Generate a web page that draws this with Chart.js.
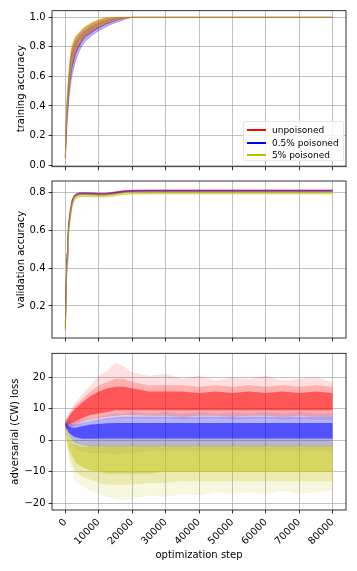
<!DOCTYPE html>
<html>
<head>
<meta charset="utf-8">
<script src="https://cdn.jsdelivr.net/npm/chart.js@4"></script>
<style>
  body { margin: 0; background: #fff; width: 357px; height: 571px; position: relative; overflow: hidden; font-family: "DejaVu Sans", sans-serif; }
  canvas { position: absolute; left: 0; }
  #legend { position: absolute; left: 243px; top: 121px; width: 101px; height: 40px; background: rgba(255,255,255,0.8); border: 1px solid rgba(225,225,225,0.8); border-radius: 2px; box-sizing: border-box; }
  #legend .row { position: absolute; left: 0; height: 12px; line-height: 12px; font-size: 9px; color: #000; white-space: nowrap; }
  #legend .sw { position: absolute; left: 3px; top: 5px; width: 19px; height: 2px; }
  #legend .txt { position: absolute; left: 28px; top: 0; }
</style>
</head>
<body>
<canvas id="train" width="357" height="175" style="top:0"></canvas>
<canvas id="valid" width="357" height="170" style="top:175px"></canvas>
<canvas id="adv" width="357" height="226" style="top:345px"></canvas>
<div id="legend">
  <div class="row" style="top:2px"><span class="sw" style="background:#ff0000"></span><span class="txt">unpoisoned</span></div>
  <div class="row" style="top:14.5px"><span class="sw" style="background:#0000ff"></span><span class="txt">0.5% poisoned</span></div>
  <div class="row" style="top:27px"><span class="sw" style="background:#bfbf00"></span><span class="txt">5% poisoned</span></div>
</div>
<script>
// tick values
var xTicks = [0, 10000, 20000, 30000, 40000, 50000, 60000, 70000, 80000];
var trainTicks = [0, 0.2, 0.4, 0.6, 0.8, 1.0];
var validTicks = [0.2, 0.4, 0.6, 0.8];
var advTicks = [-20, -10, 0, 10, 20];

// ---- training accuracy (band of runs per series: low / high edge)
var trainSteps = [0, 250, 500, 1000, 1500, 2000, 3000, 4000, 5000, 6000, 8000, 10000, 12000, 14000, 16000, 18000, 20000, 80000];
var trainHiYel = [0.06, 0.30, 0.45, 0.62, 0.74, 0.81, 0.87, 0.895, 0.92, 0.94, 0.965, 0.985, 0.997, 1, 1, 1, 1, 1];
var trainLoYel = [0.055, 0.22, 0.35, 0.50, 0.62, 0.70, 0.78, 0.82, 0.855, 0.88, 0.915, 0.94, 0.962, 0.977, 0.988, 0.995, 1, 1];
var trainHiRed = [0.058, 0.28, 0.43, 0.60, 0.72, 0.79, 0.855, 0.885, 0.91, 0.93, 0.958, 0.978, 0.992, 0.998, 1, 1, 1, 1];
var trainLoRed = [0.05, 0.20, 0.32, 0.48, 0.59, 0.66, 0.75, 0.80, 0.84, 0.87, 0.90, 0.93, 0.953, 0.97, 0.985, 0.995, 1, 1];
var trainHiBlue = [0.056, 0.26, 0.41, 0.57, 0.69, 0.76, 0.83, 0.865, 0.89, 0.91, 0.94, 0.962, 0.978, 0.988, 0.995, 0.999, 1, 1];
var trainLoBlue = [0.05, 0.17, 0.28, 0.43, 0.54, 0.61, 0.70, 0.765, 0.81, 0.84, 0.878, 0.91, 0.935, 0.955, 0.972, 0.988, 1, 1];

// ---- validation accuracy
var validSteps = [0, 250, 500, 750, 1000, 1500, 2000, 2500, 3000, 4000, 5000, 6000, 8000, 10000, 12000, 14000, 16000, 18000, 20000, 25000, 80000];
var validHiRed = [0.10, 0.33, 0.48, 0.57, 0.64, 0.71, 0.76, 0.78, 0.79, 0.797, 0.798, 0.798, 0.797, 0.795, 0.795, 0.80, 0.806, 0.81, 0.812, 0.813, 0.813];
var validLoRed = [0.08, 0.30, 0.45, 0.54, 0.61, 0.69, 0.74, 0.77, 0.782, 0.79, 0.791, 0.791, 0.79, 0.788, 0.788, 0.792, 0.798, 0.803, 0.805, 0.806, 0.806];
var validHiBlue = [0.10, 0.33, 0.48, 0.57, 0.64, 0.71, 0.755, 0.777, 0.788, 0.795, 0.796, 0.796, 0.795, 0.793, 0.793, 0.797, 0.803, 0.807, 0.809, 0.81, 0.81];
var validLoBlue = [0.08, 0.29, 0.44, 0.53, 0.60, 0.68, 0.735, 0.763, 0.778, 0.786, 0.788, 0.788, 0.787, 0.785, 0.785, 0.789, 0.795, 0.80, 0.802, 0.803, 0.803];
var validHiYel = [0.09, 0.31, 0.46, 0.55, 0.62, 0.70, 0.745, 0.77, 0.782, 0.789, 0.79, 0.79, 0.789, 0.787, 0.787, 0.79, 0.795, 0.799, 0.801, 0.802, 0.802];
var validLoYel = [0.065, 0.27, 0.42, 0.51, 0.58, 0.66, 0.72, 0.75, 0.765, 0.775, 0.778, 0.778, 0.777, 0.775, 0.775, 0.779, 0.785, 0.789, 0.791, 0.792, 0.792];

// ---- adversarial (CW) loss: outer (faint), mid and core (dense) spread of runs
var advSteps = [0, 1000, 2000, 3000, 5000, 7500, 10000, 12500, 15000, 17500, 20000, 25000, 30000, 35000, 40000, 45000, 50000, 55000, 60000, 65000, 70000, 75000, 80000];
var advRedOutHi = [6, 8.5, 10.5, 12, 14.5, 17.5, 20.5, 22, 24.5, 23.5, 21.5, 20.5, 21, 19.5, 20.5, 19, 20, 19.5, 20.5, 19, 19.5, 20, 18.5];
var advRedMidHi = [5.8, 8, 9.5, 11, 13, 15.5, 17.5, 18.5, 19.5, 19.5, 18.5, 17.5, 17.5, 17.5, 17, 17.5, 17, 17.5, 17, 17.5, 17, 17.5, 17];
var advRedCoreHi = [5.5, 7.5, 9, 10, 12, 14, 15.5, 16.5, 17, 17, 16.5, 15.5, 15.5, 15.5, 15, 15.5, 15, 15.5, 15, 15.5, 15, 15.5, 15];
var advRedCoreLo = [4.5, 5, 5.5, 6, 7, 8, 8.5, 9, 9.5, 9.5, 9.5, 9.5, 9.5, 9.5, 9.5, 9.5, 9.5, 9.5, 9.5, 9.5, 9.5, 9.5, 9.5];
var advRedMidLo = [3.5, 4, 4.5, 5, 6, 6.8, 7.2, 7.5, 7.8, 8, 8, 7.8, 7.8, 7.5, 7.8, 7.8, 7.5, 7.8, 7.8, 7.5, 7.8, 7.5, 7.5];
var advRedOutLo = [3, 3.5, 4, 4.5, 5, 5.8, 6.2, 6.5, 6.8, 7, 7, 6.8, 7, 6.5, 6.8, 7, 6.5, 6.8, 7, 6.5, 6.8, 6.5, 6.5];
var advBlueOutHi = [8, 6.5, 6, 6, 6.5, 7, 7.5, 8, 8.5, 8.5, 9, 8.5, 9, 8.5, 9, 8.5, 9, 8.5, 9, 8.5, 9, 8.5, 8.5];
var advBlueMidHi = [6, 5.5, 5, 5, 5.5, 6, 6.5, 7, 7.2, 7.5, 7.5, 7.5, 7.5, 7.5, 7.5, 7.5, 7.5, 7.5, 7.5, 7.5, 7.5, 7.5, 7.5];
var advBlueCoreHi = [5.5, 4.5, 4, 4, 4.5, 5, 5.2, 5.4, 5.5, 5.5, 5.5, 5.5, 5.5, 5.5, 5.5, 5.5, 5.5, 5.5, 5.5, 5.5, 5.5, 5.5, 5.5];
var advBlueCoreLo = [4.5, 2.5, 1.5, 1, 0.5, 0.5, 0.5, 0.5, 0.5, 0.5, 0.5, 0.5, 0.5, 0.5, 0.5, 0.5, 0.5, 0.5, 0.5, 0.5, 0.5, 0.5, 0.5];
var advBlueMidLo = [4, 1.5, 0, -1, -1.5, -2, -2, -2, -2, -2, -2, -2, -2, -2, -2, -2, -2, -2, -2, -2, -2, -2, -2];
var advBlueOutLo = [3.5, 1, -1, -2.5, -3.5, -4, -4, -4, -4.5, -4, -4, -3.5, -3.5, -3.5, -3.5, -3.5, -3.5, -3.5, -3.5, -3.5, -3.5, -3.5, -3.5];
var advYelOutHi = [4.5, 2.5, 1.5, 1, 0.5, 0.5, 1, 1, 1, 1, 1, 1, 1, 1, 1, 1, 1, 1, 1, 1, 1, 1, 1];
var advYelMidHi = [4, 1.5, 0, -0.5, -1, -1, -1, -1, -1, -1, -1, -1, -1, -1, -1, -1, -1, -1, -1, -1, -1, -1, -1];
var advYelCoreHi = [3.5, 1, -1, -1.5, -2, -2, -2, -2, -2, -2, -2, -2, -2, -2, -2, -2, -2, -2, -2, -2, -2, -2, -2];
var advYelCoreLo = [2.5, -2.5, -5, -7, -8.5, -9.5, -10, -10.5, -10.5, -10.5, -10.5, -10.5, -10, -10, -10, -10, -10, -10, -10, -10, -10, -10, -10];
var advYelMidLo = [2.2, -4, -7.5, -10, -11.5, -12.5, -13.5, -14, -14, -14, -14, -13.5, -13.5, -13, -13, -13, -13, -13, -13, -13, -13, -13, -13];
var advYelOutLo = [2, -6, -10, -13, -14.5, -16, -17, -18, -18.5, -19, -18.5, -17.5, -18, -17, -17.5, -16.5, -17, -16.5, -17, -16, -17, -16.5, -16];

var RED = '255,0,0', BLUE = '0,0,255', YEL = '191,191,0';

Chart.defaults.font.family = "'DejaVu Sans', sans-serif";
Chart.defaults.font.size = 10;
Chart.defaults.color = '#000';

function pts(steps, vals) {
    return steps.map(function(s, i) { return {x: s, y: vals[i]}; });
}

// two datasets: upper edge fills down to the lower edge
function band(steps, hi, lo, rgb, alpha, edge) {
    return [
        {data: pts(steps, hi), fill: '+1', backgroundColor: 'rgba(' + rgb + ',' + alpha + ')',
         borderColor: 'rgba(' + rgb + ',' + edge + ')', borderWidth: edge ? 1 : 0, pointRadius: 0, tension: 0},
        {data: pts(steps, lo), fill: false,
         borderColor: 'rgba(' + rgb + ',' + edge + ')', borderWidth: edge ? 1 : 0, pointRadius: 0, tension: 0}
    ];
}

var gridOpts = {color: '#b0b0b0', lineWidth: 0.8, tickColor: '#000', tickLength: 3.5, tickWidth: 0.8};

var frame = {
    id: 'frame',
    afterDatasetsDraw: function(chart) {
        var a = chart.chartArea, ctx = chart.ctx;
        ctx.save();
        ctx.strokeStyle = '#000';
        ctx.lineWidth = 0.8;
        ctx.strokeRect(a.left, a.top, a.right - a.left, a.bottom - a.top);
        ctx.restore();
    }
};

function fixedTicks(vals) {
    return function(s) { s.ticks = vals.map(function(v) { return {value: v}; }); };
}

function yScale(min, max, tickVals, title, titlePad, fmt) {
    return {
        min: min, max: max,
        afterBuildTicks: fixedTicks(tickVals),
        ticks: {padding: 3, callback: fmt},
        grid: gridOpts,
        border: {display: false},
        title: {display: true, text: title, padding: {top: titlePad, bottom: 0}},
        afterFit: function(s) { s.width = 52; s.paddingTop = 0; s.paddingBottom = 0; }
    };
}

function xScale(labels, height) {
    return {
        type: 'linear', min: -4000, max: 84000,
        afterBuildTicks: fixedTicks(xTicks),
        ticks: {display: labels, autoSkip: false, minRotation: 45, maxRotation: 45, padding: 3,
                callback: function(v) { return String(v); }},
        grid: gridOpts,
        border: {display: false},
        title: {display: labels, text: 'optimization step', padding: {top: 0, bottom: 10}},
        afterFit: function(s) { s.height = height; s.paddingLeft = 0; s.paddingRight = 0; }
    };
}

function makeChart(id, datasets, x, y, pad) {
    return new Chart(document.getElementById(id), {
        type: 'line',
        data: {datasets: datasets},
        options: {
            responsive: false,
            animation: false,
            layout: {padding: pad},
            plugins: {legend: {display: false}, tooltip: {enabled: false}},
            scales: {x: x, y: y}
        },
        plugins: [frame]
    });
}

var oneDec = function(v) { return v.toFixed(1); };
var minus = function(v) { return v < 0 ? '\u2212' + Math.abs(v) : String(v); };

// dataset order: first drawn on top -> yellow, blue, red
makeChart('train',
    [].concat(
        band(trainSteps, trainHiYel, trainLoYel, YEL, 0.4, 0.45),
        band(trainSteps, trainHiBlue, trainLoBlue, BLUE, 0.3, 0.25),
        band(trainSteps, trainHiRed, trainLoRed, RED, 0.45, 0.5)
    ),
    xScale(false, 8.3),
    yScale(-0.011, 1.045, trainTicks, 'training accuracy', 15.7, oneDec),
    {top: 10.7, right: 11, bottom: 0, left: 0});

makeChart('valid',
    [].concat(
        band(validSteps, validHiYel, validLoYel, YEL, 0.5, 0.5),
        band(validSteps, validHiBlue, validLoBlue, BLUE, 0.35, 0.4),
        band(validSteps, validHiRed, validLoRed, RED, 0.5, 0.5)
    ),
    xScale(false, 7),
    yScale(0.031, 0.86, validTicks, 'validation accuracy', 15.7, oneDec),
    {top: 6, right: 11, bottom: 0, left: 0});

makeChart('adv',
    [].concat(
        band(advSteps, advYelCoreHi, advYelCoreLo, YEL, 0.45, 0),
        band(advSteps, advYelMidHi, advYelMidLo, YEL, 0.22, 0),
        band(advSteps, advYelOutHi, advYelOutLo, YEL, 0.12, 0),
        band(advSteps, advBlueCoreHi, advBlueCoreLo, BLUE, 0.55, 0),
        band(advSteps, advBlueMidHi, advBlueMidLo, BLUE, 0.22, 0),
        band(advSteps, advBlueOutHi, advBlueOutLo, BLUE, 0.1, 0),
        band(advSteps, advRedCoreHi, advRedCoreLo, RED, 0.5, 0),
        band(advSteps, advRedMidHi, advRedMidLo, RED, 0.22, 0),
        band(advSteps, advRedOutHi, advRedOutLo, RED, 0.12, 0)
    ),
    xScale(true, 61),
    yScale(-22.1, 27.6, advTicks, 'adversarial (CW) loss', 9, minus),
    {top: 8.3, right: 11, bottom: 0, left: 0});
</script>
</body>
</html>
